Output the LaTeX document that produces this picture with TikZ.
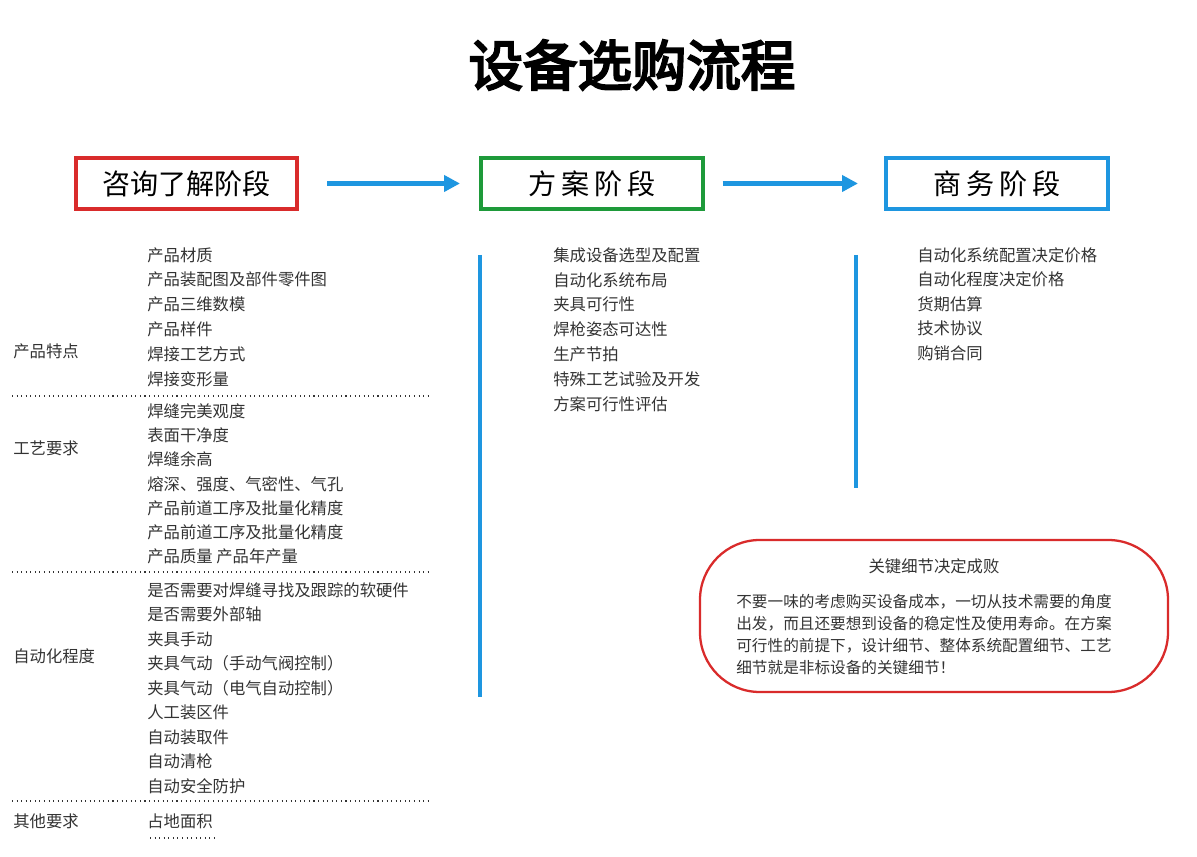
\documentclass[tikz,border=0pt]{standalone}
\usepackage{fontspec}
\setmainfont{Noto Sans CJK SC}
\newfontfamily\cjkbold[FakeBold=4]{Noto Sans CJK SC}
\usetikzlibrary{positioning,arrows.meta}
\definecolor{stagered}{HTML}{D92B2B}
\definecolor{stagegreen}{HTML}{1E9A3A}
\definecolor{stageblue}{HTML}{1E96E0}
\definecolor{itemgray}{HTML}{333333}
\tikzset{
  stagebox/.style={draw=#1, line width=2.3pt, minimum width=126pt, minimum height=29pt, font=\fontsize{16}{16}\selectfont, inner sep=0pt},
  flowarrow/.style={stageblue, line width=2.6pt, -{Triangle[length=9pt,width=9pt]}},
  stageline/.style={stageblue, line width=2.6pt},
  item/.style={anchor=west, inner sep=0pt, text=itemgray, font=\fontsize{9.3}{9.3}\selectfont},
  sepline/.style={line width=0.6pt, dotted, itemgray}
}
\begin{document}
\begin{tikzpicture}[x=0.02cm,y=-0.02cm]
  \useasboundingbox (0,0) rectangle (1197,857);
  % title
  \node (title) at (632,65) {\cjkbold\fontsize{31}{31}\selectfont 设备选购流程};
  % stages
  \node[stagebox=stagered] (consult) at (186.5,183.5) {咨询了解阶段};
  \node[stagebox=stagegreen] (plan) at (592,183.5) {方\,案\,阶\,段};
  \node[stagebox=stageblue] (business) at (997,183.5) {商\,务\,阶\,段};
  \draw[flowarrow] (consult.east) ++(28,0) coordinate (a1) -- (plan.west -| 460,0) ;
  \draw[flowarrow] (plan.east) ++(18,0) coordinate (a2) -- (business.west -| 858,0);
  \draw[stageline] (480,255) -- (480,697);
  \draw[stageline] (856,255) -- (856,488);
  % left column
  \foreach \t [count=\i from 0] in {产品材质,产品装配图及部件零件图,产品三维数模,产品样件,焊接工艺方式,焊接变形量}
    \node[item] at (147,255+24.8*\i) {\t};
  \foreach \t [count=\i from 0] in {焊缝完美观度,表面干净度,焊缝余高,熔深、强度、气密性、气孔,产品前道工序及批量化精度,产品前道工序及批量化精度,产品质量 产品年产量}
    \node[item] at (147,411+24.3*\i) {\t};
  \foreach \t [count=\i from 0] in {是否需要对焊缝寻找及跟踪的软硬件,是否需要外部轴,夹具手动,夹具气动（手动气阀控制）,夹具气动（电气自动控制）,人工装区件,自动装取件,自动清枪,自动安全防护}
    \node[item] at (147,590+24.5*\i) {\t};
  \node[item] (area) at (147,821) {占地面积};
  \node[item] at (13,351) {产品特点};
  \node[item] at (13,448) {工艺要求};
  \node[item] at (13,656) {自动化程度};
  \node[item] at (13,821) {其他要求};
  \foreach \y in {396,572,801}
    \draw[sepline] (12,\y) -- (432,\y);
  \draw[sepline] (150,838) -- (215,838);
  % middle column
  \foreach \t [count=\i from 0] in {集成设备选型及配置,自动化系统布局,夹具可行性,焊枪姿态可达性,生产节拍,特殊工艺试验及开发,方案可行性评估}
    \node[item] at (553,255+24.8*\i) {\t};
  % right column
  \foreach \t [count=\i from 0] in {自动化系统配置决定价格,自动化程度决定价格,货期估算,技术协议,购销合同}
    \node[item] at (917,255+24.6*\i) {\t};
  % key note
  \draw[stagered, line width=1.3pt, rounded corners=34pt] (700,540) rectangle (1168,692);
  \node[item, anchor=center] (keytitle) at (934,566) {关键细节决定成败};
  \node[item, anchor=north west, align=left, font=\fontsize{8.9}{12.6}\selectfont] (keytext) at (736,594)
    {不要一味的考虑购买设备成本，一切从技术需要的角度\\出发，而且还要想到设备的稳定性及使用寿命。在方案\\可行性的前提下，设计细节、整体系统配置细节、工艺\\细节就是非标设备的关键细节！};
\end{tikzpicture}
\end{document}
